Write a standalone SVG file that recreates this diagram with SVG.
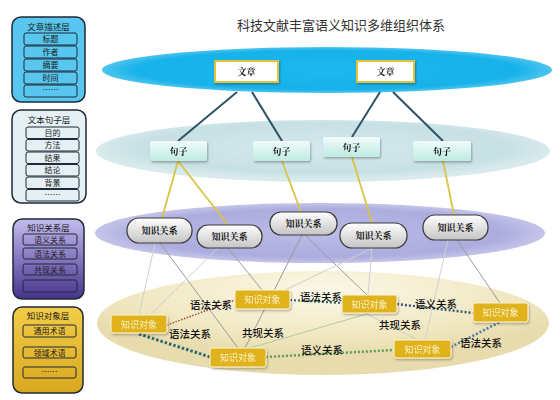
<svg xmlns="http://www.w3.org/2000/svg" width="560" height="400" viewBox="0 0 560 400">
<defs>
<radialGradient id="gBlue" cx="0.5" cy="0.5" r="0.5"><stop offset="0" stop-color="#1cb8f0"/><stop offset="0.85" stop-color="#18b2ea"/><stop offset="1" stop-color="#4cc4ee"/></radialGradient>
<radialGradient id="gCyan" cx="0.5" cy="0.45" r="0.5"><stop offset="0" stop-color="#d6eaed"/><stop offset="0.8" stop-color="#c6e0e4"/><stop offset="1" stop-color="#d8eaec"/></radialGradient>
<radialGradient id="gLav" cx="0.5" cy="0.5" r="0.5"><stop offset="0" stop-color="#bcbce8"/><stop offset="0.8" stop-color="#acacde"/><stop offset="1" stop-color="#c4c4ea"/></radialGradient>
<radialGradient id="gBeige" cx="0.5" cy="0.2" r="0.6"><stop offset="0" stop-color="#fbf8e8"/><stop offset="0.7" stop-color="#f1e8c2"/><stop offset="1" stop-color="#e8dcae"/></radialGradient>
<linearGradient id="gSent" x1="0" y1="0" x2="0" y2="1"><stop offset="0" stop-color="#f0fcfa"/><stop offset="1" stop-color="#bfeae2"/></linearGradient>
<linearGradient id="gPill" x1="0" y1="0" x2="0" y2="1"><stop offset="0" stop-color="#ffffff"/><stop offset="1" stop-color="#c4c4c4"/></linearGradient>
<linearGradient id="gP3" x1="0" y1="0" x2="0" y2="1"><stop offset="0" stop-color="#c4bcec"/><stop offset="0.5" stop-color="#8676c0"/><stop offset="1" stop-color="#46348a"/></linearGradient>
<linearGradient id="gP4" x1="0" y1="0" x2="0" y2="1"><stop offset="0" stop-color="#f2cc48"/><stop offset="1" stop-color="#d8a820"/></linearGradient>
<filter id="sh" x="-20%" y="-20%" width="140%" height="160%"><feDropShadow dx="1" dy="1.5" stdDeviation="1" flood-color="#000" flood-opacity="0.3"/></filter>
</defs>
<style>
.ptitle{font-family:"Noto Sans CJK SC","Liberation Sans",sans-serif;font-size:8.5px;fill:#1a1a1a;text-anchor:middle}
.pitem{font-family:"Noto Sans CJK SC","Liberation Sans",sans-serif;font-size:8px;fill:#1a1a1a;text-anchor:middle}
.pbox{stroke:#1e2a36;stroke-width:1;rx:2}
.node{font-family:"Noto Serif CJK SC","Noto Sans CJK SC",serif;font-weight:bold;font-size:9px;text-anchor:middle;fill:#111}
.obj{font-family:"Noto Sans CJK SC",sans-serif;font-size:9px;text-anchor:middle;fill:#fbf1c8}
.lbl{font-family:"Noto Sans CJK SC",sans-serif;font-size:10.5px;font-weight:500;text-anchor:middle;fill:#111}
.gl{stroke:#9a9a9a;stroke-width:1;fill:none}
.gll{stroke:#cfcfcf;stroke-width:1;fill:none}
.yl{stroke:#d8c446;stroke-width:1.8;fill:none}
.dk{stroke:#2c5466;stroke-width:2;fill:none}
</style>
<rect width="560" height="400" fill="#ffffff"/>

<g id="title"><text x="341" y="30" font-family="Noto Sans CJK SC, sans-serif" font-size="13" fill="#333" text-anchor="middle">科技文献丰富语义知识多维组织体系</text></g>

<g id="panel-article">
<rect x="12" y="17" width="73" height="85" rx="9" fill="#58c6ee" stroke="#1e2a36" stroke-width="1.5"/>
<text class="ptitle" x="48.5" y="30">文章描述层</text>
<rect class="pbox" x="24" y="33" width="53" height="12" fill="#58c6ee"/><text class="pitem" x="50.5" y="42">标题</text>
<rect class="pbox" x="24" y="46" width="53" height="12" fill="#58c6ee"/><text class="pitem" x="50.5" y="55">作者</text>
<rect class="pbox" x="24" y="59" width="53" height="12" fill="#58c6ee"/><text class="pitem" x="50.5" y="68">摘要</text>
<rect class="pbox" x="24" y="72" width="53" height="12" fill="#58c6ee"/><text class="pitem" x="50.5" y="81">时间</text>
<rect class="pbox" x="24" y="85" width="53" height="12" fill="#58c6ee"/><text class="pitem" x="50.5" y="93" fill="#3a7a9a" font-size="7">……</text>
</g>

<g id="panel-sentence">
<rect x="12" y="110" width="74" height="93" rx="9" fill="#e4f0f4" stroke="#1e2a36" stroke-width="1.5"/>
<text class="ptitle" x="49" y="123">文本句子层</text>
<rect class="pbox" x="26" y="127" width="53" height="11.5" fill="#e4f0f4"/><text class="pitem" x="52.5" y="135.8">目的</text>
<rect class="pbox" x="26" y="139.5" width="53" height="11.5" fill="#e4f0f4"/><text class="pitem" x="52.5" y="148.3">方法</text>
<rect class="pbox" x="26" y="152" width="53" height="11.5" fill="#e4f0f4"/><text class="pitem" x="52.5" y="160.8">结果</text>
<rect class="pbox" x="26" y="164.5" width="53" height="11.5" fill="#e4f0f4"/><text class="pitem" x="52.5" y="173.3">结论</text>
<rect class="pbox" x="26" y="177" width="53" height="11.5" fill="#e4f0f4"/><text class="pitem" x="52.5" y="185.8">背景</text>
<rect class="pbox" x="26" y="189.5" width="53" height="11.5" fill="#e4f0f4"/><text class="pitem" x="52.5" y="197.5" fill="#8a9aa0" font-size="7">……</text>
</g>

<g id="panel-relation">
<rect x="13" y="219" width="71" height="80" rx="9" fill="url(#gP3)" stroke="#1e2a36" stroke-width="1.5"/>
<text class="ptitle" x="48.5" y="231">知识关系层</text>
<rect class="pbox" x="23" y="234" width="54" height="11" fill="none"/><text class="pitem" x="50" y="242.5">语义关系</text>
<rect class="pbox" x="23" y="248" width="54" height="11" fill="none"/><text class="pitem" x="50" y="256.5">语法关系</text>
<rect class="pbox" x="23" y="264" width="54" height="11" fill="none"/><text class="pitem" x="50" y="272.5">共现关系</text>
<rect class="pbox" x="23" y="280" width="54" height="12" fill="none"/>
</g>

<g id="panel-object">
<rect x="13" y="307" width="70" height="86" rx="9" fill="url(#gP4)" stroke="#1e2a36" stroke-width="1.5"/>
<text class="ptitle" x="48" y="319">知识对象层</text>
<rect class="pbox" x="23" y="325" width="53" height="12" fill="none" stroke="#4a3a10"/><text class="pitem" x="49.5" y="334">通用术语</text>
<rect class="pbox" x="23" y="347" width="53" height="11" fill="none" stroke="#4a3a10"/><text class="pitem" x="49.5" y="355.5">领域术语</text>
<rect class="pbox" x="23" y="367" width="53" height="11" fill="none" stroke="#4a3a10"/><text class="pitem" x="49.5" y="375" fill="#a08020" font-size="7">……</text>
</g>

<g id="layers">
<ellipse cx="323" cy="323" rx="226" ry="52" fill="url(#gBeige)"/>
<ellipse cx="320" cy="233" rx="225" ry="30" fill="url(#gLav)"/>
<ellipse cx="323" cy="151" rx="227" ry="31" fill="url(#gCyan)"/>
<ellipse cx="327" cy="70" rx="225" ry="23" fill="url(#gBlue)"/>
</g>

<g id="connectors">
<line class="dk" x1="237" y1="92" x2="178" y2="141"/>
<line class="dk" x1="252" y1="92" x2="282" y2="141"/>
<line class="dk" x1="380" y1="92" x2="352" y2="137"/>
<line class="dk" x1="393" y1="92" x2="443" y2="141"/>
<line class="yl" x1="178" y1="161" x2="162" y2="218"/>
<line class="yl" x1="178" y1="161" x2="228" y2="225"/>
<line class="yl" x1="282" y1="161" x2="301" y2="212"/>
<line class="yl" x1="352" y1="157" x2="372" y2="223" stroke="#cfc48a"/>
<line class="yl" x1="443" y1="161" x2="454" y2="215"/>
<line class="gl" x1="160" y1="243" x2="238" y2="348"/>
<line class="gll" x1="155" y1="243" x2="139" y2="315"/>
<line class="gll" x1="218" y1="248" x2="150" y2="315"/>
<line class="gl" x1="228" y1="248" x2="262" y2="290"/>
<line class="gl" x1="305" y1="235" x2="367" y2="295"/>
<line class="gl" x1="302" y1="235" x2="245" y2="348"/>
<line class="gll" x1="373" y1="248" x2="285" y2="290"/>
<line class="gll" x1="372" y1="248" x2="368" y2="295"/>
<line class="gl" x1="457" y1="240" x2="500" y2="303"/>
<line class="gll" x1="448" y1="240" x2="425" y2="340"/>
<line x1="250" y1="348" x2="370" y2="313" stroke="#b0cca4" stroke-width="1"/>
<line x1="365" y1="313" x2="418" y2="340" stroke="#c8d4bc" stroke-width="1"/>
<line x1="167" y1="325" x2="235" y2="300" stroke="#a04a42" stroke-width="1.5" stroke-dasharray="1.5 1.5"/>
<line x1="139" y1="334" x2="210" y2="357" stroke="#2c6a6c" stroke-width="3" stroke-dasharray="2.5 2"/>
<line x1="290" y1="300" x2="342" y2="303" stroke="#2c6a70" stroke-width="2.2" stroke-dasharray="2 2"/>
<line x1="397" y1="304" x2="473" y2="313" stroke="#345f78" stroke-width="2.5" stroke-dasharray="2 2"/>
<line x1="266" y1="357" x2="394" y2="350" stroke="#5c9e62" stroke-width="2.5" stroke-dasharray="2 2"/>
<line x1="451" y1="347" x2="500" y2="322" stroke="#4a7aa2" stroke-width="2.5" stroke-dasharray="2 2"/>
</g>

<g id="article1" filter="url(#sh)"><rect x="215" y="61" width="63" height="21" fill="#fff" stroke="#e6c23a" stroke-width="2"/><text class="node" x="246.5" y="75">文章</text></g>
<g id="article2" filter="url(#sh)"><rect x="357" y="61" width="57" height="21" fill="#fff" stroke="#e6c23a" stroke-width="2"/><text class="node" x="385.5" y="75">文章</text></g>

<g id="sent1" filter="url(#sh)"><rect x="150" y="141" width="57" height="20" rx="2" fill="url(#gSent)"/><text class="node" x="178.5" y="154.5">句子</text></g>
<g id="sent2" filter="url(#sh)"><rect x="253" y="141" width="57" height="20" rx="2" fill="url(#gSent)"/><text class="node" x="281.5" y="154.5">句子</text></g>
<g id="sent3" filter="url(#sh)"><rect x="323" y="137" width="57" height="20" rx="2" fill="url(#gSent)"/><text class="node" x="351.5" y="150.5">句子</text></g>
<g id="sent4" filter="url(#sh)"><rect x="413" y="141" width="58" height="20" rx="2" fill="url(#gSent)"/><text class="node" x="442" y="154.5">句子</text></g>

<g id="rel1"><rect x="127" y="218" width="65" height="25" rx="12" fill="url(#gPill)" stroke="#3a3a3a" stroke-width="1.2"/><text class="node" x="159.5" y="234">知识关系</text></g>
<g id="rel2"><rect x="197" y="225" width="65" height="23" rx="11" fill="url(#gPill)" stroke="#3a3a3a" stroke-width="1.2"/><text class="node" x="229.5" y="240">知识关系</text></g>
<g id="rel3"><rect x="270" y="212" width="67" height="23" rx="11" fill="url(#gPill)" stroke="#3a3a3a" stroke-width="1.2"/><text class="node" x="303.5" y="227">知识关系</text></g>
<g id="rel4"><rect x="340" y="223" width="67" height="25" rx="12" fill="url(#gPill)" stroke="#3a3a3a" stroke-width="1.2"/><text class="node" x="373.5" y="239">知识关系</text></g>
<g id="rel5"><rect x="423" y="215" width="65" height="25" rx="12" fill="url(#gPill)" stroke="#3a3a3a" stroke-width="1.2"/><text class="node" x="455.5" y="231">知识关系</text></g>

<g id="obj1" filter="url(#sh)"><rect x="111" y="315" width="56" height="18" rx="2" fill="#e0b31c" stroke="#fff6d6" stroke-width="1"/><text class="obj" x="139" y="327.5">知识对象</text></g>
<g id="obj2" filter="url(#sh)"><rect x="235" y="290" width="55" height="19" rx="2" fill="#e0b31c" stroke="#fff6d6" stroke-width="1"/><text class="obj" x="262.5" y="303">知识对象</text></g>
<g id="obj3" filter="url(#sh)"><rect x="210" y="348" width="56" height="19" rx="2" fill="#e0b31c" stroke="#fff6d6" stroke-width="1"/><text class="obj" x="238" y="361">知识对象</text></g>
<g id="obj4" filter="url(#sh)"><rect x="342" y="295" width="55" height="18" rx="2" fill="#e0b31c" stroke="#fff6d6" stroke-width="1"/><text class="obj" x="369.5" y="307.5">知识对象</text></g>
<g id="obj5" filter="url(#sh)"><rect x="473" y="303" width="55" height="19" rx="2" fill="#e0b31c" stroke="#fff6d6" stroke-width="1"/><text class="obj" x="500.5" y="316">知识对象</text></g>
<g id="obj6" filter="url(#sh)"><rect x="394" y="340" width="57" height="18" rx="2" fill="#e0b31c" stroke="#fff6d6" stroke-width="1"/><text class="obj" x="422.5" y="352.5">知识对象</text></g>

<g id="labels">
<text class="lbl" x="211" y="309">语法关系</text>
<text class="lbl" x="190" y="338">语法关系</text>
<text class="lbl" x="263" y="337">共现关系</text>
<text class="lbl" x="321" y="301">语法关系</text>
<text class="lbl" x="436" y="308">语义关系</text>
<text class="lbl" x="400" y="329">共现关系</text>
<text class="lbl" x="322" y="354">语义关系</text>
<text class="lbl" x="481" y="347">语法关系</text>
</g>
</svg>
